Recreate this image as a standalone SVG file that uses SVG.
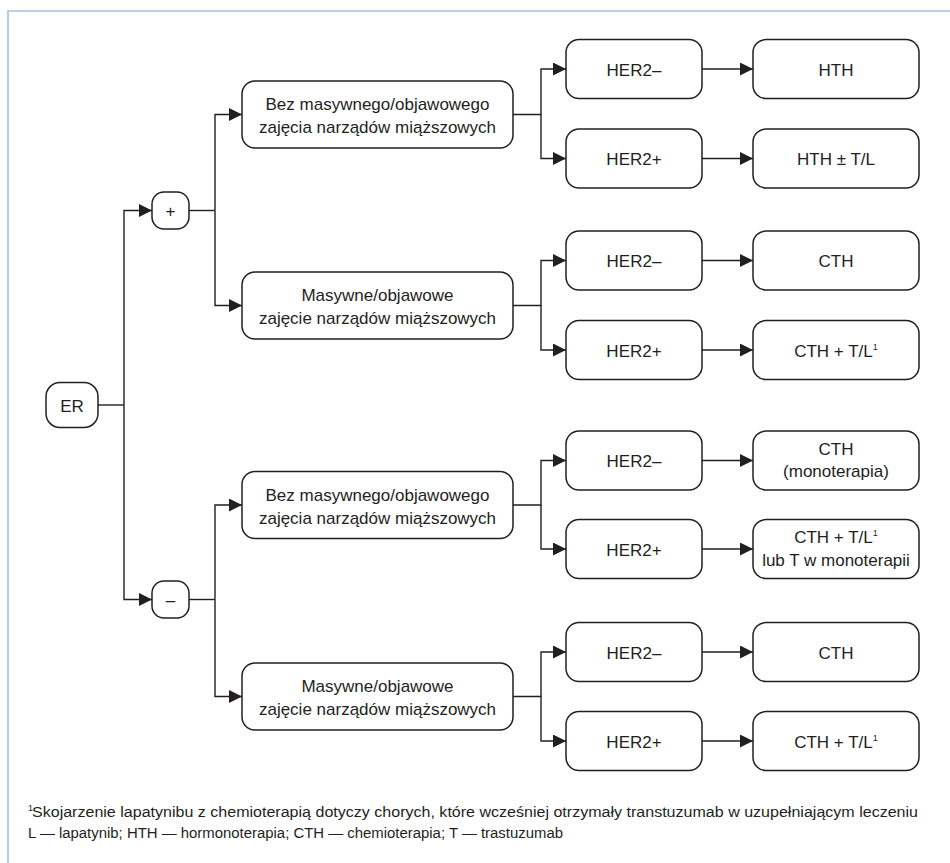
<svg xmlns="http://www.w3.org/2000/svg" width="950" height="863" viewBox="0 0 950 863">
  <style>
    .box { fill: #ffffff; stroke: #231f20; stroke-width: 1.5; }
    .lbl { font-family: "Liberation Sans", Arial, sans-serif; font-size: 17px; fill: #231f20; text-anchor: middle; }
    .wire { fill: none; stroke: #231f20; stroke-width: 1.4; }
    .arrow { marker-end: url(#head); }
    .note { font-family: "Liberation Sans", Arial, sans-serif; font-size: 15.5px; fill: #231f20; }
    .sup { font-size: 9px; }
  </style>
  <defs>
    <marker id="head" markerUnits="userSpaceOnUse" markerWidth="14" markerHeight="14" refX="13" refY="6.5" orient="auto">
      <path d="M0,0 L13,6.5 L0,13 Z" fill="#231f20"/>
    </marker>
  </defs>

  <rect width="950" height="863" fill="#ffffff"/>
  <!-- frame -->
  <path d="M8,863 V11 H950" fill="none" stroke="#a6c0e0" stroke-width="1.6"/>

  <!-- connectors -->
  <g id="connectors">
    <path class="wire" d="M98,405 H124"/>
    <path class="wire arrow" d="M124,405 V210.5 H152"/>
    <path class="wire arrow" d="M124,405 V599.5 H152"/>

    <path class="wire" d="M189,210.5 H215"/>
    <path class="wire arrow" d="M215,210.5 V114.5 H242"/>
    <path class="wire arrow" d="M215,210.5 V305.5 H242"/>
    <path class="wire" d="M189,599.5 H215"/>
    <path class="wire arrow" d="M215,599.5 V505 H242"/>
    <path class="wire arrow" d="M215,599.5 V696.5 H242"/>

    <path class="wire arrow" d="M513,114.5 H541 V69 H566"/>
    <path class="wire arrow" d="M541,114.5 V158.5 H566"/>
    <path class="wire arrow" d="M513,305.5 H541 V260.5 H566"/>
    <path class="wire arrow" d="M541,305.5 V350 H566"/>
    <path class="wire arrow" d="M513,505 H541 V460.5 H566"/>
    <path class="wire arrow" d="M541,505 V549 H566"/>
    <path class="wire arrow" d="M513,696.5 H541 V652 H566"/>
    <path class="wire arrow" d="M541,696.5 V741 H566"/>

    <path class="wire arrow" d="M702,69 H753"/>
    <path class="wire arrow" d="M702,158.5 H753"/>
    <path class="wire arrow" d="M702,260.5 H753"/>
    <path class="wire arrow" d="M702,350 H753"/>
    <path class="wire arrow" d="M702,460.5 H753"/>
    <path class="wire arrow" d="M702,549 H753"/>
    <path class="wire arrow" d="M702,652 H753"/>
    <path class="wire arrow" d="M702,741 H753"/>
  </g>

  <!-- root -->
  <g id="er">
    <rect class="box" x="46" y="382.5" width="52" height="45" rx="14"/>
    <text class="lbl" x="72" y="411.5">ER</text>
  </g>

  <!-- receptor status -->
  <g id="er-pos">
    <rect class="box" x="152" y="192" width="37" height="37" rx="12"/>
    <text class="lbl" x="170.5" y="216.5">+</text>
  </g>
  <g id="er-neg">
    <rect class="box" x="152" y="581" width="37" height="37" rx="12"/>
    <text class="lbl" x="170.5" y="605.5">–</text>
  </g>

  <!-- organ involvement -->
  <g id="pos-no-visceral">
    <rect class="box" x="242" y="81" width="271" height="67" rx="13"/>
    <text class="lbl" x="377.5" y="110">Bez masywnego/objawowego</text>
    <text class="lbl" x="377.5" y="133">zajęcia narządów miąższowych</text>
  </g>
  <g id="pos-visceral">
    <rect class="box" x="242" y="272" width="271" height="67" rx="13"/>
    <text class="lbl" x="377.5" y="301">Masywne/objawowe</text>
    <text class="lbl" x="377.5" y="324">zajęcie narządów miąższowych</text>
  </g>
  <g id="neg-no-visceral">
    <rect class="box" x="242" y="471.5" width="271" height="67" rx="13"/>
    <text class="lbl" x="377.5" y="500.5">Bez masywnego/objawowego</text>
    <text class="lbl" x="377.5" y="523.5">zajęcia narządów miąższowych</text>
  </g>
  <g id="neg-visceral">
    <rect class="box" x="242" y="663" width="271" height="67" rx="13"/>
    <text class="lbl" x="377.5" y="692">Masywne/objawowe</text>
    <text class="lbl" x="377.5" y="715">zajęcie narządów miąższowych</text>
  </g>

  <!-- HER2 status -->
  <g id="her2-a-neg"><rect class="box" x="566" y="39.5" width="136" height="59" rx="13"/><text class="lbl" x="634" y="75.5">HER2–</text></g>
  <g id="her2-a-pos"><rect class="box" x="566" y="129" width="136" height="59" rx="13"/><text class="lbl" x="634" y="165">HER2+</text></g>
  <g id="her2-b-neg"><rect class="box" x="566" y="231" width="136" height="59" rx="13"/><text class="lbl" x="634" y="267">HER2–</text></g>
  <g id="her2-b-pos"><rect class="box" x="566" y="320.5" width="136" height="59" rx="13"/><text class="lbl" x="634" y="356.5">HER2+</text></g>
  <g id="her2-c-neg"><rect class="box" x="566" y="431" width="136" height="59" rx="13"/><text class="lbl" x="634" y="467">HER2–</text></g>
  <g id="her2-c-pos"><rect class="box" x="566" y="519.5" width="136" height="59" rx="13"/><text class="lbl" x="634" y="555.5">HER2+</text></g>
  <g id="her2-d-neg"><rect class="box" x="566" y="622.5" width="136" height="59" rx="13"/><text class="lbl" x="634" y="658.5">HER2–</text></g>
  <g id="her2-d-pos"><rect class="box" x="566" y="711.5" width="136" height="59" rx="13"/><text class="lbl" x="634" y="747.5">HER2+</text></g>

  <!-- treatment -->
  <g id="tx-a-neg"><rect class="box" x="753" y="39.5" width="166" height="59" rx="13"/><text class="lbl" x="836" y="75.5">HTH</text></g>
  <g id="tx-a-pos"><rect class="box" x="753" y="129" width="166" height="59" rx="13"/><text class="lbl" x="836" y="165">HTH ± T/L</text></g>
  <g id="tx-b-neg"><rect class="box" x="753" y="231" width="166" height="59" rx="13"/><text class="lbl" x="836" y="267">CTH</text></g>
  <g id="tx-b-pos"><rect class="box" x="753" y="320.5" width="166" height="59" rx="13"/><text class="lbl" x="836" y="356.5">CTH + T/L<tspan class="sup" dy="-7">1</tspan></text></g>
  <g id="tx-c-neg"><rect class="box" x="753" y="431" width="166" height="59" rx="13"/><text class="lbl" x="836" y="455">CTH</text><text class="lbl" x="836" y="477">(monoterapia)</text></g>
  <g id="tx-c-pos"><rect class="box" x="753" y="519.5" width="166" height="59" rx="13"/><text class="lbl" x="836" y="543">CTH + T/L<tspan class="sup" dy="-7">1</tspan></text><text class="lbl" x="836" y="566">lub T w monoterapii</text></g>
  <g id="tx-d-neg"><rect class="box" x="753" y="622.5" width="166" height="59" rx="13"/><text class="lbl" x="836" y="658.5">CTH</text></g>
  <g id="tx-d-pos"><rect class="box" x="753" y="711.5" width="166" height="59" rx="13"/><text class="lbl" x="836" y="747.5">CTH + T/L<tspan class="sup" dy="-7">1</tspan></text></g>

  <!-- legend -->
  <text class="note sup" x="28" y="811">1</text>
  <text class="note" x="32" y="817" textLength="886" lengthAdjust="spacingAndGlyphs">Skojarzenie lapatynibu z chemioterapią dotyczy chorych, które wcześniej otrzymały transtuzumab w uzupełniającym leczeniu</text>
  <text class="note" x="28" y="838" textLength="535" lengthAdjust="spacingAndGlyphs">L — lapatynib; HTH — hormonoterapia; CTH — chemioterapia; T — trastuzumab</text>
</svg>
